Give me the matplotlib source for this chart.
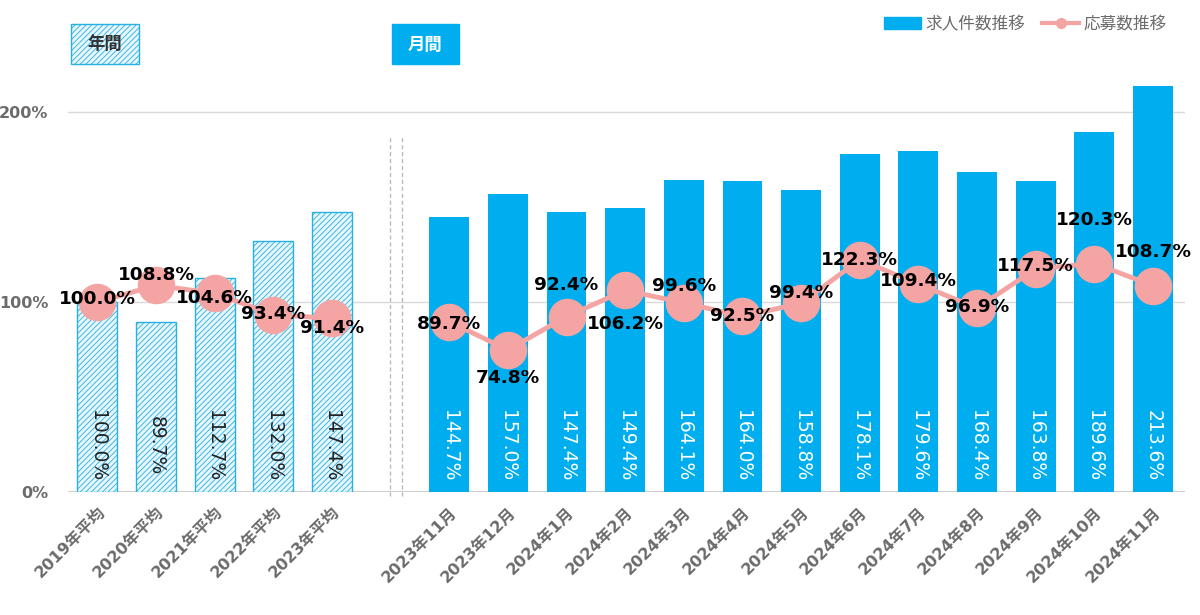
import matplotlib
matplotlib.use("Agg")
from matplotlib import pyplot as plt
from matplotlib.patches import Rectangle
from matplotlib.lines import Line2D

# 数字はVerdanaっぽいDejaVu、漢字はNoto
plt.rcParams['font.family'] = ['DejaVu Sans', 'Noto Sans CJK JP']
plt.rcParams['hatch.linewidth'] = 0.6

# データ（％）
nen_labels = ['2019年平均', '2020年平均', '2021年平均', '2022年平均', '2023年平均']
nen_kyujin = [100.0, 89.7, 112.7, 132.0, 147.4]
nen_oubo = [100.0, 108.8, 104.6, 93.4, 91.4]

tsuki_labels = ['2023年11月', '2023年12月', '2024年1月', '2024年2月', '2024年3月', '2024年4月',
                '2024年5月', '2024年6月', '2024年7月', '2024年8月', '2024年9月', '2024年10月', '2024年11月']
tsuki_kyujin = [144.7, 157.0, 147.4, 149.4, 164.1, 164.0, 158.8, 178.1, 179.6, 168.4, 163.8, 189.6, 213.6]
tsuki_oubo = [89.7, 74.8, 92.4, 106.2, 99.6, 92.5, 99.4, 122.3, 109.4, 96.9, 117.5, 120.3, 108.7]

# ラベルのずらし (y方向, %)
nen_off = [1.5, 5.5, -2.5, 0.5, -5]
tsuki_off = [-1.5, -15, 16.5, -18, 9, 0, 5.5, 0, 1.5, 0.5, 1.5, 23, 17.5]

AO = '#00AEEF'
PINK = '#F4A5A3'
GRAY = '#6b6b6b'

fig = plt.figure(figsize=(12, 6.15), dpi=100)
ax = fig.add_axes([0.0567, 0.2, 0.931, 0.772])

xn = list(range(len(nen_labels)))
xt = [i + len(nen_labels) + 1 for i in range(len(tsuki_labels))]

ax.bar(xn, nen_kyujin, width=0.68, color='#e6f6fc', edgecolor='#27b0e2', hatch='//////', linewidth=1.0, zorder=2)
ax.bar(xt, tsuki_kyujin, width=0.68, color=AO, zorder=2)

ax.plot(xn, nen_oubo, color=PINK, lw=3.5, marker='o', ms=26, zorder=3)
ax.plot(xt, tsuki_oubo, color=PINK, lw=3.5, marker='o', ms=26, zorder=3)

# 棒の中の数値
for x, v in zip(xn, nen_kyujin):
    ax.text(x, 24.5, f'{v:.1f}%', rotation=-90, ha='center', va='center', fontsize=13.5, color='#222222', zorder=4)
for x, v in zip(xt, tsuki_kyujin):
    ax.text(x, 24.5, f'{v:.1f}%', rotation=-90, ha='center', va='center', fontsize=13.5, color='white', zorder=4)

# 折れ線の数値
for x, v, d in zip(xn, nen_oubo, nen_off):
    ax.text(x, v + d, f'{v:.1f}%', ha='center', va='center', fontsize=13.3, fontweight='bold', color='black', zorder=5)
for x, v, d in zip(xt, tsuki_oubo, tsuki_off):
    ax.text(x, v + d, f'{v:.1f}%', ha='center', va='center', fontsize=13.3, fontweight='bold', color='black', zorder=5)

# 区切りの点線
for xx in [4.99, 5.2]:
    ax.plot([xx, xx], [-2, 188], color='#bbbbbb', lw=1, ls=(0, (3, 2)), clip_on=False, zorder=1)

ax.set_xlim(-0.5, 18.55)
ax.set_ylim(0, 250)
ax.set_yticks([0, 100, 200])
ax.set_yticklabels(['0%', '100%', '200%'], fontsize=11.5, color=GRAY, fontweight='bold')
ax.axhline(100, color='#d9d9d9', lw=1, zorder=1)
ax.axhline(200, color='#d9d9d9', lw=1, zorder=1)
ax.axhline(0, color='#d0d0d0', lw=1.5, zorder=1)

ax.set_xticks(xn + xt)
ax.set_xticklabels(nen_labels + tsuki_labels, rotation=45, ha='right', va='top', rotation_mode='anchor',
                   fontsize=11.5, color=GRAY, fontweight='bold')
ax.tick_params(axis='both', length=0)
ax.tick_params(axis='x', pad=9)
ax.tick_params(axis='y', pad=14)
for s in ax.spines.values():
    s.set_visible(False)

# 年間・月間の見出し
fig.patches.append(Rectangle((71 / 1200, 1 - 64 / 615), 68 / 1200, 40 / 615, transform=fig.transFigure,
                             facecolor='#e6f6fc', edgecolor='#27b0e2', hatch='//////', lw=1))
fig.text(105 / 1200, 1 - 45 / 615, '年間', ha='center', va='center', fontsize=12.5, fontweight='bold', color='#333333')
fig.patches.append(Rectangle((392 / 1200, 1 - 64 / 615), 67 / 1200, 40 / 615, transform=fig.transFigure,
                             facecolor=AO, edgecolor=AO, lw=1))
fig.text(425 / 1200, 1 - 45 / 615, '月間', ha='center', va='center', fontsize=12.5, fontweight='bold', color='white')

# 凡例
handles = [Rectangle((0, 0), 1, 1, color=AO),
           Line2D([0], [0], color=PINK, lw=3, marker='o', ms=7)]
fig.legend(handles, ['求人件数推移', '応募数推移'], loc='upper right', bbox_to_anchor=(0.985, 1.0), ncol=2,
           frameon=False, fontsize=12, labelcolor=GRAY, handlelength=2.2, handletextpad=0.3, columnspacing=1.0)

plt.savefig('out.png', dpi=100)
